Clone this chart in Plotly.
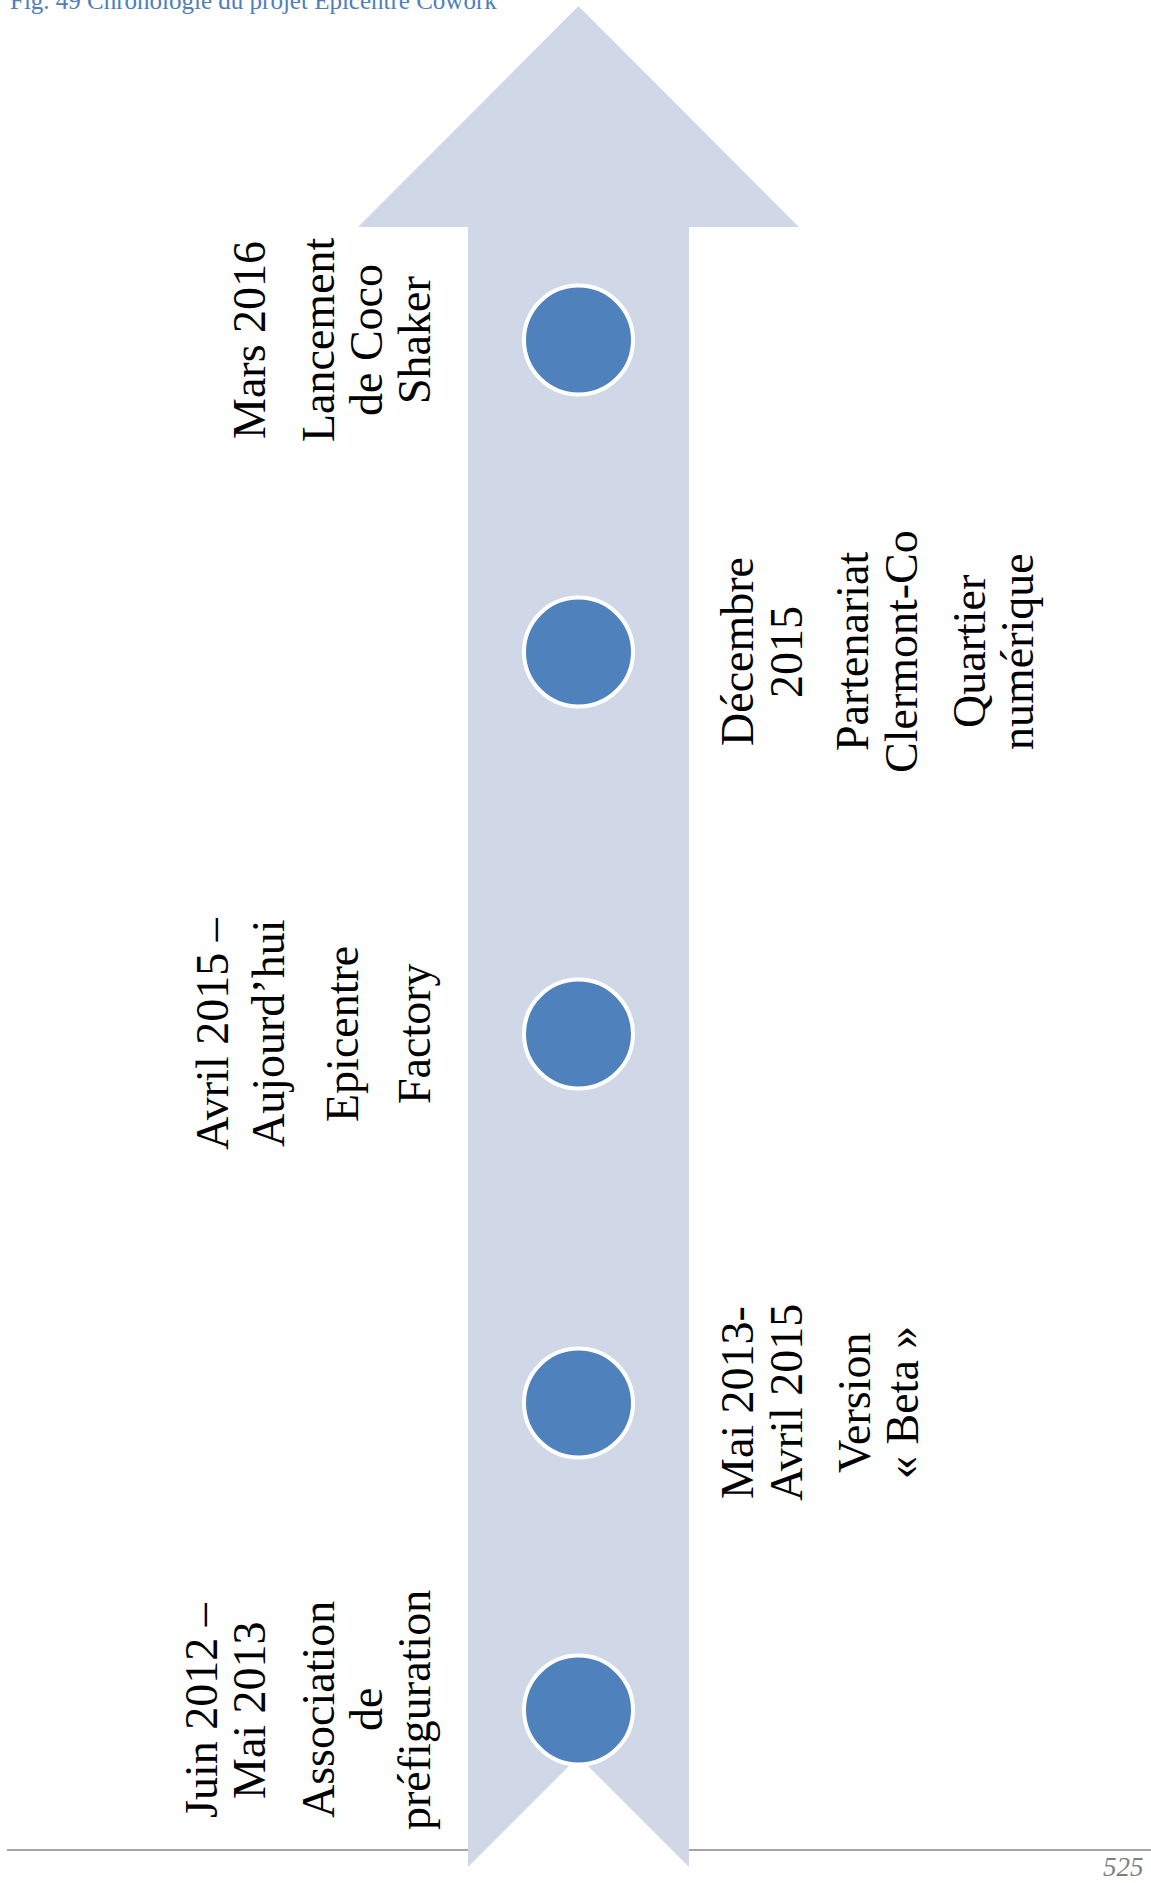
import plotly.graph_objects as go

# ---------------- data ----------------
event_dates = [
    ["Juin 2012 –", "Mai 2013"],
    ["Mai 2013-", "Avril 2015"],
    ["Avril 2015 –", "Aujourd’hui"],
    ["Décembre", "2015"],
    ["Mars 2016"],
]
event_labels = [
    ["Association", "de", "préfiguration"],
    ["Version", "« Beta »"],
    ["Epicentre", "Factory"],
    ["Partenariat", "Clermont-Co", "Quartier", "numérique"],
    ["Lancement", "de Coco", "Shaker"],
]
# position of each milestone along the timeline arrow
event_timeline_pos = [1710, 1403, 1034, 652, 340]
title_text = "Fig. 49 Chronologie du projet Epicentre Cowork"
page_number = "525"

# ---------------- layout / style ----------------
W, H = 1151, 1883
ARROW_X = 578.5
SHAFT_HALF = 110.5
HEAD_HALF = 220.5
TIP_Y = 6
HEAD_BASE_Y = 227
BOTTOM_Y = 1867
ARROW_COLOR = "#D0D8E8"
DOT_COLOR = "#4F81BD"
FONT = "Liberation Serif"
FS = 46
# x centre of every text line for each block (rotated text)
LINE_X = [
    [201, 249, 318, 366, 414],
    [737, 786, 854, 902],
    [212, 268, 342, 414],
    [737, 786, 852, 901, 969, 1017],
    [249, 318, 366, 414],
]
TEXT_DX = 0

fig = go.Figure()

# arrow with notched tail
notch = SHAFT_HALF
path = (
    f"M {ARROW_X} {TIP_Y} "
    f"L {ARROW_X + HEAD_HALF} {HEAD_BASE_Y} "
    f"L {ARROW_X + SHAFT_HALF} {HEAD_BASE_Y} "
    f"L {ARROW_X + SHAFT_HALF} {BOTTOM_Y} "
    f"L {ARROW_X} {BOTTOM_Y - notch} "
    f"L {ARROW_X - SHAFT_HALF} {BOTTOM_Y} "
    f"L {ARROW_X - SHAFT_HALF} {HEAD_BASE_Y} "
    f"L {ARROW_X - HEAD_HALF} {HEAD_BASE_Y} Z"
)
shapes = [
    dict(type="line", xref="x", yref="y", x0=7, x1=ARROW_X - SHAFT_HALF, y0=1850, y1=1850,
         line=dict(color="#A5A5A5", width=2), layer="below"),
    dict(type="line", xref="x", yref="y", x0=ARROW_X + SHAFT_HALF, x1=W, y0=1850, y1=1850,
         line=dict(color="#A5A5A5", width=2), layer="below"),
    dict(type="path", xref="x", yref="y", path=path, fillcolor=ARROW_COLOR,
         line=dict(width=0), layer="below"),
]

fig.add_trace(go.Scatter(
    x=[ARROW_X] * len(event_timeline_pos), y=event_timeline_pos, mode="markers",
    marker=dict(size=109, color=DOT_COLOR, line=dict(color="white", width=4)),
    hoverinfo="skip", showlegend=False,
))

annotations = []
for i, ypos in enumerate(event_timeline_pos):
    lines = event_dates[i] + event_labels[i]
    for j, txt in enumerate(lines):
        annotations.append(dict(
            x=LINE_X[i][j] + TEXT_DX, y=ypos, xref="x", yref="y", text=txt,
            textangle=-90, showarrow=False, xanchor="center", yanchor="middle",
            font=dict(family=FONT, size=FS, color="black"),
        ))

annotations.append(dict(
    x=8, y=16, xref="x", yref="y", text=title_text, showarrow=False,
    xanchor="left", yanchor="bottom",
    font=dict(family=FONT, size=25, color="#4F7EBD"),
))
annotations.append(dict(
    x=1146, y=0, xref="x", yref="paper", text=f"<i>{page_number}</i>", showarrow=False,
    xanchor="right", yanchor="bottom", yshift=-1,
    font=dict(family=FONT, size=27, color="#7F7F7F"),
))

fig.update_layout(
    width=W, height=H, margin=dict(l=0, r=0, t=0, b=0),
    paper_bgcolor="white", plot_bgcolor="white",
    xaxis=dict(range=[0, W], visible=False, fixedrange=True),
    yaxis=dict(range=[H, 0], visible=False, fixedrange=True),
    shapes=shapes, annotations=annotations, showlegend=False,
)

fig.write_html(
    "out.html",
    config={"displayModeBar": False},
    post_script="document.body.style.margin='0';document.body.style.overflow='hidden';",
)
